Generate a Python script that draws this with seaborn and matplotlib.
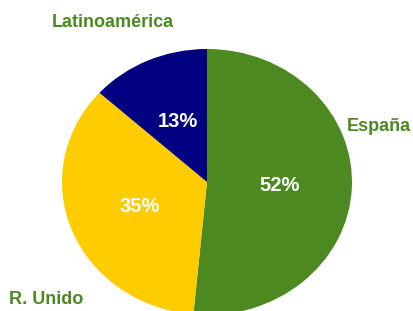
import matplotlib
matplotlib.use('Agg')
import matplotlib.pyplot as plt
import seaborn as sns

# Data (shares; labels show them rounded)
regions = ['España', 'R. Unido', 'Latinoamérica']
shares = [51.5, 35.2, 13.3]
colors = sns.color_palette(['#4C8A21', '#FFCC00', '#000080'])
label_color = '#4C8A21'

sns.set_style('white')
plt.rcParams['font.family'] = ['Liberation Sans', 'DejaVu Sans']

fig = plt.figure(figsize=(4.14, 3.11), dpi=100)
ax = fig.add_axes([62 / 414, -4 / 311, 290 / 414, 266 / 311])

wedges, texts, autotexts = ax.pie(
    shares, labels=regions, colors=colors, startangle=90, counterclock=False,
    autopct='%.0f%%', pctdistance=0.5, wedgeprops={'linewidth': 0},
    textprops={'fontsize': 13, 'fontweight': 'bold'})

# stretch the pie into the slightly wide ellipse of the original
ax.set_aspect('auto')
ax.set_xlim(-1, 1)
ax.set_ylim(-1, 1)

# outside labels, placed like the original
label_pos = {'España': (1.186, 0.414), 'R. Unido': (-1.11, -0.887),
             'Latinoamérica': (-0.648, 1.203)}
for t in texts:
    t.set_position(label_pos[t.get_text()])
    t.set_ha('center')
    t.set_va('center')
    t.set_color(label_color)

for t in autotexts:
    t.set_color('white')
    t.set_fontsize(14.5)
    t.set_ha('center')
    t.set_va('center')

fig.savefig('out.png', dpi=100)
